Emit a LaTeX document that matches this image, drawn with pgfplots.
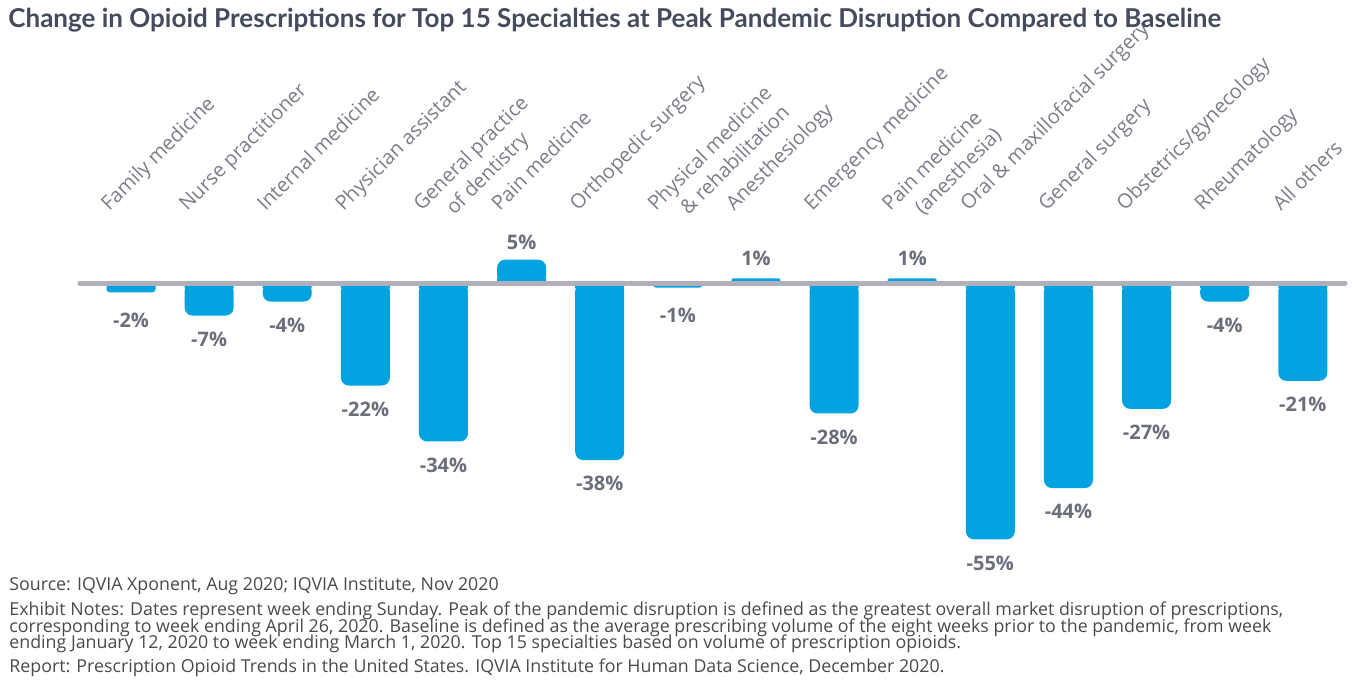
\documentclass[border=0pt]{standalone}
\usepackage{fontspec}
\setmainfont{Open Sans}
\newfontfamily\titlefont{Lato}
\usepackage{pgfplots}
\pgfplotsset{compat=1.18}
\definecolor{barblue}{HTML}{00A3E0}
\definecolor{linegray}{HTML}{B0AFBA}
\definecolor{labgray}{HTML}{6B6E7B}
\definecolor{ticklab}{HTML}{7A7D8A}
\definecolor{titlecol}{HTML}{434B5C}
\definecolor{notecol}{HTML}{4A4A4A}
\newcommand{\tl}[2]{\begin{tabular}[t]{@{}l@{}}#1\\\hspace*{10pt}#2\end{tabular}}
\begin{document}
\begin{tikzpicture}
\useasboundingbox (-65.5pt,-204pt) rectangle (610.5pt,141.5pt);
\begin{axis}[
  at={(0,0)}, anchor=origin,
  x=39.06pt, y=2.33pt,
  xmin=-0.7, xmax=15.6, ymin=-62, ymax=15.24,
  clip=false,
  axis line style={draw=none},
  ytick=\empty,
  xtick={0,...,15},
  major tick length=0pt,
  xticklabel pos=upper,
  xticklabels={Family medicine, Nurse practitioner, Internal medicine, Physician assistant, {\tl{General practice}{of dentistry}}, Pain medicine, Orthopedic surgery, {\tl{Physical medicine}{\& rehabilitation}}, Anesthesiology, Emergency medicine, {\tl{Pain medicine}{(anesthesia)}}, Oral \& maxillofacial surgery, General surgery, Obstetrics/gynecology, Rheumatology, All others},
  xticklabel style={xshift=-11pt, rotate=45, anchor=base west, inner sep=0pt, font=\fontsize{10}{13}\selectfont, text=ticklab},
  ybar, bar width=24.5pt, bar shift=0pt,
  point meta=explicit symbolic,
]
% large negative bars
\addplot[fill=barblue, draw=none, rounded corners=4pt,
  nodes near coords={\pgfplotspointmeta\%},
  nodes near coords style={anchor=north, yshift=-8pt, inner sep=0pt, font=\bfseries\fontsize{10}{12}\selectfont, text=labgray}]
  coordinates {(1,-7) [-7] (2,-4) [-4] (3,-22) [-22] (4,-34) [-34] (6,-38) [-38] (9,-28) [-28] (11,-55) [-55] (12,-44) [-44] (13,-27) [-27] (14,-4) [-4] (15,-21) [-21]};
% large positive bar
\addplot[fill=barblue, draw=none, rounded corners=4pt,
  nodes near coords={\pgfplotspointmeta\%},
  nodes near coords style={anchor=south, yshift=5pt, inner sep=0pt, font=\bfseries\fontsize{10}{12}\selectfont, text=labgray}]
  coordinates {(5,5) [5]};
% small negative bars
\addplot[fill=barblue, draw=none, rounded corners=1.5pt,
  nodes near coords={\pgfplotspointmeta\%},
  nodes near coords style={anchor=north, yshift=-10pt, inner sep=0pt, font=\bfseries\fontsize{10}{12}\selectfont, text=labgray}]
  coordinates {(0,-2) [-2] (7,-1) [-1]};
% small positive bars
\addplot[fill=barblue, draw=none, rounded corners=1pt,
  nodes near coords={\pgfplotspointmeta\%},
  nodes near coords style={anchor=south, yshift=6pt, inner sep=0pt, font=\bfseries\fontsize{10}{12}\selectfont, text=labgray}]
  coordinates {(8,1) [1] (10,1) [1]};
% square base of the large bars
\begin{scope}
\clip (axis cs:-1,-1) rectangle (axis cs:16,1);
\addplot[fill=barblue, draw=none]
  coordinates {(1,-7) (2,-4) (3,-22) (4,-34) (5,5) (6,-38) (9,-28) (11,-55) (12,-44) (13,-27) (14,-4) (15,-21)};
\end{scope}
\draw[linegray, line width=2.5pt, line cap=round] (axis cs:-0.653,0) -- (axis cs:15.54,0);
\end{axis}
\node[anchor=base west, inner sep=0pt, text=titlecol, font=\titlefont\bfseries\fontsize{13}{16}\selectfont] at (-61.5pt,127.5pt) {Change in Opioid Prescriptions for Top 15 Specialties at Peak Pandemic Disruption Compared to Baseline};
\begin{scope}[every node/.style={anchor=base west, inner sep=0pt, text=notecol, font=\fontsize{8.9}{11}\selectfont}]
\node at (-61pt,-153.75pt) {Source: IQVIA Xponent, Aug 2020; IQVIA Institute, Nov 2020};
\node at (-61pt,-166pt) {Exhibit Notes: Dates represent week ending Sunday. Peak of the pandemic disruption is defined as the greatest overall market disruption of prescriptions,};
\node at (-61pt,-174.5pt) {corresponding to week ending April 26, 2020. Baseline is defined as the average prescribing volume of the eight weeks prior to the pandemic, from week};
\node at (-61pt,-182.5pt) {ending January 12, 2020 to week ending March 1, 2020. Top 15 specialties based on volume of prescription opioids.};
\node at (-61pt,-194.5pt) {Report: Prescription Opioid Trends in the United States. IQVIA Institute for Human Data Science, December 2020.};
\end{scope}
\end{tikzpicture}
\end{document}
